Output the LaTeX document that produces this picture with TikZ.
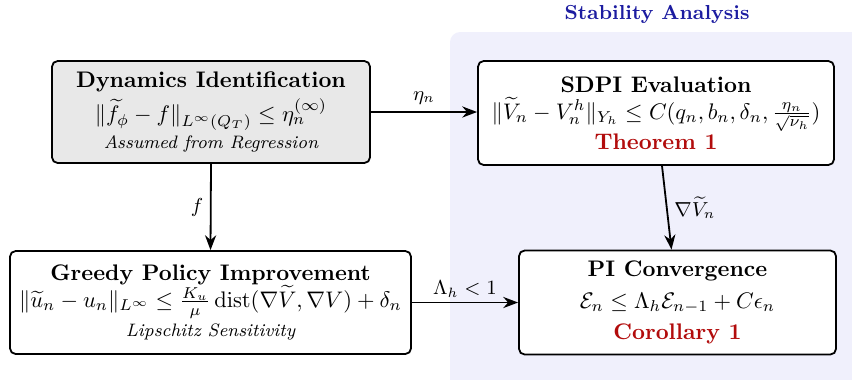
\documentclass[tikz,border=0pt]{standalone}
\usepackage{amsmath}
\usepackage{amssymb}
\usetikzlibrary{arrows.meta}
\definecolor{panelfill}{RGB}{240,240,252}
\definecolor{paneltitle}{RGB}{28,28,160}
\definecolor{resultred}{RGB}{178,12,12}
\newcommand{\pxu}{0.444pt}
\tikzset{
  stagebox/.style = {draw, thick, rounded corners=2.5pt, fill=white, align=center,
                     inner sep=2pt},
  givenbox/.style = {stagebox, fill=black!9},
  flow/.style     = {thick, -Stealth},
  flab/.style     = {font=\small, inner sep=3pt},
}

\begin{document}
\begin{tikzpicture}[x=\pxu, y=-\pxu]
\useasboundingbox (0,0) rectangle (852,379);
\clip (0,0) rectangle (852,379);
% stability panel on the right, running off the page
\fill[panelfill, rounded corners=4.5pt] (450,32) rectangle (880,400);
\node[font=\small\bfseries, text=paneltitle] (stab) at (657,14) {Stability Analysis};

\node[givenbox, minimum width=318*\pxu, minimum height=102*\pxu] (dyn) at (211,112)
  {\textbf{Dynamics Identification}\\[2pt]
   $\|\widetilde{f}_\phi - f\|_{L^\infty(Q_T)} \le \eta_n^{(\infty)}$\\[0pt]
   {\footnotesize\itshape Assumed from Regression}};
\node[stagebox, minimum width=356*\pxu, minimum height=104*\pxu] (sdpi) at (656,113)
  {\textbf{SDPI Evaluation}\\
   $\|\widetilde{V}_n - V_n^h\|_{Y_h} \le C(q_n, b_n, \delta_n, \frac{\eta_n}{\sqrt{\nu_h}})$\\
   {\bfseries\color{resultred} Theorem 1}};
\node[stagebox, minimum width=401*\pxu, minimum height=103*\pxu] (greedy) at (210.5,302.5)
  {\textbf{Greedy Policy Improvement}\\
   $\|\widetilde{u}_n - u_n\|_{L^\infty} \le \frac{K_u}{\mu}\operatorname{dist}(\nabla\widetilde{V}, \nabla V) + \delta_n$\\[1pt]
   {\footnotesize\itshape Lipschitz Sensitivity}};
\node[stagebox, minimum width=317*\pxu, minimum height=104*\pxu] (pi) at (677.5,302.5)
  {\textbf{PI Convergence}\\[2pt]
   $\mathcal{E}_n \le \Lambda_h \mathcal{E}_{n-1} + C\epsilon_n$\\[2pt]
   {\bfseries\color{resultred} Corollary 1}};

\draw[flow] (dyn.east) -- node[flab, above] {$\eta_n$} (dyn.east -| sdpi.west);
\draw[flow] (dyn.south) -- node[flab, left] {$f$} (greedy.north);
\draw[flow] (sdpi) -- node[flab, right, pos=0.5] {$\nabla\widetilde{V}_n$} (pi);
\draw[flow] (greedy.east) -- node[flab, above, inner sep=2pt] {$\Lambda_h < 1$} (greedy.east -| pi.west);
\end{tikzpicture}
\end{document}
